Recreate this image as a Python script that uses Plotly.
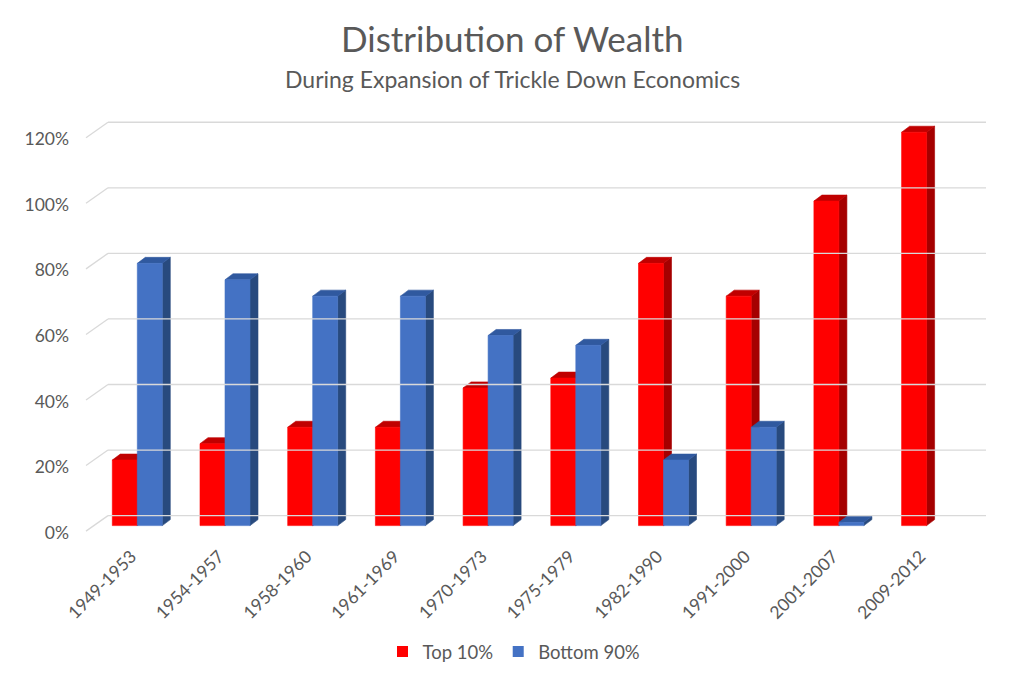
import plotly.graph_objects as go

# data
categories = ['1949-1953', '1954-1957', '1958-1960', '1961-1969', '1970-1973',
              '1975-1979', '1982-1990', '1991-2000', '2001-2007', '2009-2012']
top10 = [20, 25, 30, 30, 42, 45, 80, 70, 99, 120]
bottom90 = [80, 75, 70, 70, 58, 55, 20, 30, 1, None]
y_ticks = [0, 20, 40, 60, 80, 100, 120]
y_ticktext = ['0%', '20%', '40%', '60%', '80%', '100%', '120%']

W, H = 1024, 682
M_L, M_R, M_T, M_B = 66, 32, 98, 148
X_RANGE = [-0.7218, 9.837]
Y_RANGE = [-5, 128]
px_x = (W - M_L - M_R) / (X_RANGE[1] - X_RANGE[0])
px_y = (H - M_T - M_B) / (Y_RANGE[1] - Y_RANGE[0])

bar_w = 25 / px_x       # front face width
dx = 8 / px_x           # depth offset
dy = 6 / px_y

FONT = 'Lato'
GREY = '#595959'


def faces(values, left_off):
    """front / side / top polygons for one series (None separated)"""
    fx, fy, sx, sy, tx, ty = [], [], [], [], [], []
    for i, v in enumerate(values):
        if v is None:
            continue
        x0 = i + left_off
        x1 = x0 + bar_w
        fx += [x0, x1, x1, x0, x0, None]
        fy += [0, 0, v, v, 0, None]
        sx += [x1, x1 + dx, x1 + dx, x1, x1, None]
        sy += [0, dy, v + dy, v, 0, None]
        tx += [x0, x1, x1 + dx, x0 + dx, x0, None]
        ty += [v, v, v + dy, v + dy, v, None]
    return (fx, fy), (sx, sy), (tx, ty)


def poly(xy, color):
    return go.Scatter(x=xy[0], y=xy[1], mode='lines', fill='toself',
                      fillcolor=color, line=dict(width=0.6, color=color),
                      hoverinfo='skip', showlegend=False)


fig = go.Figure()

series = [
    (top10, -bar_w, 'Top 10%', '#FF0000', '#A50000', '#C00000'),
    (bottom90, 0.0, 'Bottom 90%', '#4472C4', '#284A7E', '#30599F'),
]
for vals, off, name, c_front, c_side, c_top in series:
    front, side, top = faces(vals, off)
    fig.add_trace(poly(side, c_side))
    fig.add_trace(poly(top, c_top))
    fig.add_trace(poly(front, c_front))

# legend entries
for vals, off, name, c_front, c_side, c_top in series:
    fig.add_trace(go.Scatter(x=[None], y=[None], mode='markers', name=name,
                             marker=dict(symbol='square', size=11, color=c_front)))

# back wall gridlines + side wall diagonals
shapes = []
for v in y_ticks:
    frac = (v - Y_RANGE[0]) / (Y_RANGE[1] - Y_RANGE[0])
    shapes.append(dict(type='line', xref='paper', yref='y domain',
                       xsizemode='pixel', xanchor=0, x0=34, x1=912,
                       ysizemode='pixel', yanchor=frac, y0=10, y1=10,
                       line=dict(color='#D9D9D9', width=1.3)))
    shapes.append(dict(type='line', xref='paper', yref='y domain',
                       xsizemode='pixel', xanchor=0, x0=12, x1=34,
                       ysizemode='pixel', yanchor=frac, y0=-5.5, y1=10,
                       line=dict(color='#D9D9D9', width=1.3)))


def py(p):
    # pixel row (figure coords) -> paper y
    return (H - M_B - p) / (H - M_T - M_B)


def pxp(p):
    return (p - M_L) / (W - M_L - M_R)


fig.update_layout(
    width=W, height=H,
    margin=dict(l=M_L, r=M_R, t=M_T, b=M_B),
    paper_bgcolor='white', plot_bgcolor='white',
    font=dict(family=FONT, color=GREY, size=17),
    shapes=shapes,
    xaxis=dict(range=X_RANGE, tickmode='array', tickvals=list(range(len(categories))),
               ticktext=categories, tickangle=-45, showgrid=False, zeroline=False,
               showline=False, ticks='', ticklabelshift=-6,
               tickfont=dict(size=17.5, color=GREY)),
    yaxis=dict(range=Y_RANGE, tickmode='array', tickvals=y_ticks, ticktext=y_ticktext,
               showgrid=False, zeroline=False, showline=False, ticks='',
               ticklabelshift=7, ticklabelstandoff=4,
               tickfont=dict(size=17.5, color=GREY)),
    legend=dict(orientation='h', xanchor='center', x=pxp(506), yanchor='middle', y=py(644),
                font=dict(size=18.5, color=GREY), itemwidth=30),
    annotations=[
        dict(text='Distribution of Wealth', xref='paper', yref='paper', x=pxp(504), y=py(30),
             xanchor='center', yanchor='middle', showarrow=False,
             font=dict(size=35, color=GREY, family=FONT)),
        dict(text='During Expansion of Trickle Down Economics', xref='paper', yref='paper',
             x=pxp(504), y=py(71), xanchor='center', yanchor='middle', showarrow=False,
             font=dict(size=23, color=GREY, family=FONT)),
    ],
)

fig.write_html('out.html')
